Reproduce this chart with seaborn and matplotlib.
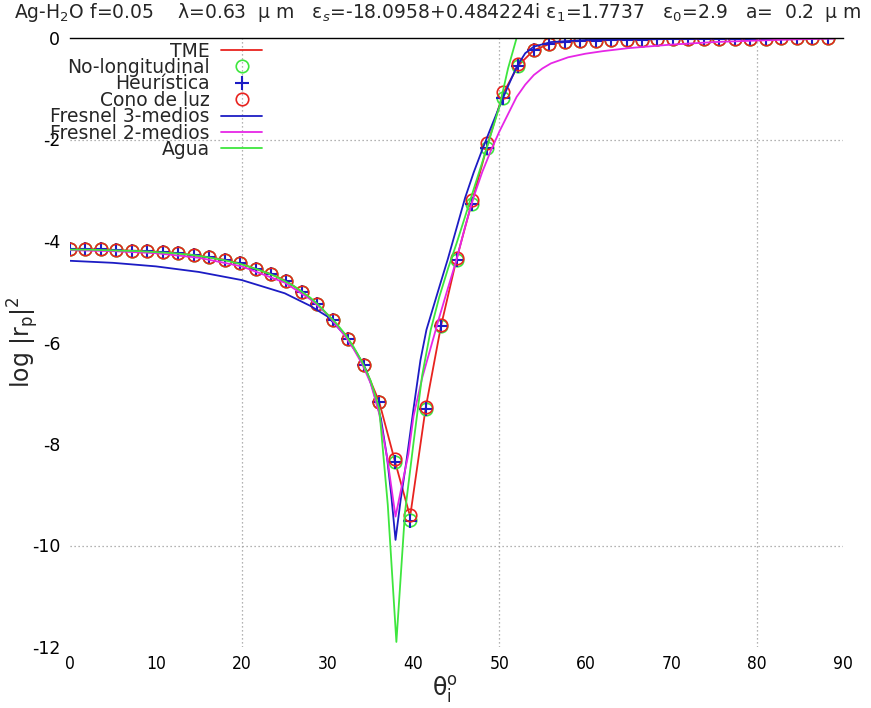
import numpy as np
import pandas as pd
import seaborn as sns
import matplotlib
matplotlib.use("Agg")
import matplotlib.pyplot as plt

# ---------------- data ----------------
theta_m = [0.0, 1.8, 3.6, 5.4, 7.2, 9.0, 10.8, 12.6, 14.4, 16.2,
           18.0, 19.8, 21.6, 23.4, 25.2, 27.0, 28.8, 30.6, 32.4, 34.2,
           36.0, 37.8, 39.6, 41.4, 43.2, 45.0, 46.8, 48.6, 50.4, 52.2,
           54.0, 55.8, 57.6, 59.4, 61.2, 63.0, 64.8, 66.6, 68.4, 70.2,
           72.0, 73.8, 75.6, 77.4, 79.2, 81.0, 82.8, 84.6, 86.4, 88.2]

tme = [-4.16, -4.16, -4.16, -4.18, -4.19, -4.20, -4.22, -4.24, -4.28, -4.32,
       -4.37, -4.44, -4.55, -4.65, -4.79, -5.00, -5.25, -5.56, -5.94, -6.44,
       -7.17, -8.32, -9.43, -7.30, -5.67, -4.36, -3.23, -2.11, -1.10, -0.54,
       -0.24, -0.12, -0.08, -0.06, -0.05, -0.04, -0.03, -0.03, -0.02, -0.02,
       -0.02, -0.015, -0.01, -0.01, -0.01, -0.01, -0.005, -0.005, -0.005, -0.005]

no_longitudinal = [-4.16, -4.16, -4.16, -4.18, -4.19, -4.20, -4.22, -4.24, -4.28, -4.32,
                   -4.37, -4.44, -4.55, -4.65, -4.79, -5.00, -5.25, -5.56, -5.94, -6.44,
                   -7.17, -8.36, -9.50, -7.32, -5.68, -4.38, -3.27, -2.16, -1.19, -0.56,
                   -0.24, -0.12, -0.08, -0.06, -0.05, -0.04, -0.03, -0.03, -0.02, -0.02,
                   -0.02, -0.015, -0.01, -0.01, -0.01, -0.01, -0.005, -0.005, -0.005, -0.005]

heuristica = [-4.16, -4.16, -4.16, -4.18, -4.19, -4.20, -4.22, -4.24, -4.28, -4.32,
              -4.37, -4.44, -4.55, -4.65, -4.79, -5.00, -5.25, -5.56, -5.94, -6.44,
              -7.17, -8.36, -9.52, -7.32, -5.68, -4.38, -3.27, -2.16, -1.19, -0.56,
              -0.24, -0.12, -0.08, -0.06, -0.05, -0.04, -0.03, -0.03, -0.02, -0.02,
              -0.02, -0.015, -0.01, -0.01, -0.01, -0.01, -0.005, -0.005, -0.005, -0.005]

cono_de_luz = [-4.16, -4.16, -4.16, -4.18, -4.19, -4.20, -4.22, -4.24, -4.28, -4.32,
               -4.37, -4.44, -4.55, -4.65, -4.79, -5.00, -5.25, -5.56, -5.94, -6.44,
               -7.17, -8.30, -9.40, -7.28, -5.65, -4.33, -3.20, -2.06, -1.07, -0.52,
               -0.24, -0.12, -0.08, -0.06, -0.05, -0.04, -0.03, -0.03, -0.02, -0.02,
               -0.02, -0.015, -0.01, -0.01, -0.01, -0.01, -0.005, -0.005, -0.005, -0.005]

theta_f3 = [0, 5, 10, 15, 20, 25, 28, 30, 32, 33.4, 34.5, 35.3, 36.2, 36.9, 37.4, 37.9,
            38.5, 39.2, 40, 40.8, 41.5, 42.3, 43.1, 44, 45, 46, 47, 48, 49, 50, 51, 52,
            53, 54, 56, 60, 65, 70, 80, 89]
fresnel3 = [-4.39, -4.43, -4.50, -4.61, -4.77, -5.03, -5.28, -5.49, -5.85, -6.21, -6.55,
            -6.94, -7.50, -8.25, -9.00, -9.89, -9.10, -8.30, -7.30, -6.35, -5.75, -5.30,
            -4.85, -4.35, -3.75, -3.15, -2.65, -2.20, -1.77, -1.35, -0.95, -0.57, -0.30,
            -0.17, -0.08, -0.04, -0.03, -0.02, -0.01, -0.005]

theta_f2 = [0, 5, 10, 15, 20, 25, 28, 30, 32, 33, 34, 35, 36, 37, 37.9, 38.6, 39.4, 40,
            41, 42, 43, 44, 45, 46, 47, 48, 49, 50, 51, 52, 53, 54, 55, 56, 58, 60, 62,
            65, 70, 75, 80, 85, 89]
fresnel2 = [-4.18, -4.20, -4.24, -4.33, -4.50, -4.82, -5.15, -5.45, -5.87, -6.12, -6.42,
            -6.80, -7.40, -8.35, -9.43, -8.85, -8.20, -7.45, -6.70, -6.10, -5.50, -4.93,
            -4.37, -3.72, -3.13, -2.64, -2.22, -1.84, -1.50, -1.16, -0.92, -0.73, -0.60,
            -0.50, -0.38, -0.31, -0.26, -0.20, -0.13, -0.08, -0.05, -0.025, -0.01]

theta_agua = [0, 2, 4, 6, 8, 10, 12, 14, 16, 18, 20, 22, 24, 26, 28, 29, 30, 31, 32, 33,
              34, 35, 36, 37, 38, 39, 40, 41, 42, 43, 44, 45, 46, 47, 48, 49, 50, 51, 52,
              60, 70, 80, 89]
agua = [-4.17, -4.17, -4.18, -4.19, -4.20, -4.22, -4.24, -4.27, -4.32, -4.38, -4.46,
        -4.57, -4.70, -4.88, -5.12, -5.27, -5.45, -5.62, -5.83, -6.08, -6.38, -6.75,
        -7.30, -9.20, -11.90, -9.35, -7.97, -6.65, -5.75, -5.10, -4.55, -4.05, -3.52,
        -2.98, -2.45, -1.90, -1.35, -0.60, 0.0, 0.0, 0.0, 0.0, 0.0]

x_ticks = [0, 10, 20, 30, 40, 50, 60, 70, 80, 90]
y_ticks = [0, -2, -4, -6, -8, -10, -12]
x_grid = [20, 50, 80]
y_grid = [-2, -10]

title = ("Ag-H$_2$O f=0.05    λ=0.63  μ m   ε$_s$=-18.0958+0.484224i "
         "ε$_1$=1.7737   ε$_0$=2.9   a=  0.2  μ m")

RED = "#e8231f"
BLUE = "#1c1cc4"
MAGENTA = "#e626e6"
GREEN = "#3ee63e"

# ---------------- figure ----------------
sns.set_theme(style="white")
plt.rcParams["font.family"] = ["DejaVu Sans"]
plt.rcParams["mathtext.fontset"] = "dejavusans"

fig = plt.figure(figsize=(8.71, 7.08), dpi=100)
ax = fig.add_axes([70 / 871, 1 - 647 / 708, 773 / 871, 609 / 708])

for v in x_grid:
    ax.axvline(v, color="#9a9a9a", lw=0.9, ls=(0, (1, 2.2)), zorder=0)
for h in y_grid:
    ax.axhline(h, color="#9a9a9a", lw=0.9, ls=(0, (1, 2.2)), zorder=0)

sns.lineplot(x=theta_m, y=tme, ax=ax, color=RED, lw=1.3, label="TME",
             estimator=None, sort=False)
sns.lineplot(x=theta_m, y=no_longitudinal, ax=ax, color=GREEN, linestyle="",
             marker="o", markersize=9, markerfacecolor="none",
             markeredgecolor=GREEN, markeredgewidth=1.2,
             label="No-longitudinal", estimator=None, sort=False)
sns.lineplot(x=theta_m, y=heuristica, ax=ax, color=BLUE, linestyle="",
             marker="+", markersize=10, markeredgewidth=1.5,
             markeredgecolor=BLUE, markerfacecolor=BLUE,
             label="Heurística", estimator=None, sort=False)
sns.lineplot(x=theta_m, y=cono_de_luz, ax=ax, color=RED, linestyle="",
             marker="o", markersize=9, markerfacecolor="none",
             markeredgecolor=RED, markeredgewidth=1.2,
             label="Cono de luz", estimator=None, sort=False)
sns.lineplot(x=theta_f3, y=fresnel3, ax=ax, color=BLUE, lw=1.3,
             label="Fresnel 3-medios", estimator=None, sort=False)
sns.lineplot(x=theta_f2, y=fresnel2, ax=ax, color=MAGENTA, lw=1.3,
             label="Fresnel 2-medios", estimator=None, sort=False)
sns.lineplot(x=theta_agua, y=agua, ax=ax, color=GREEN, lw=1.3,
             label="Agua", estimator=None, sort=False)

ax.set_xlim(0, 90)
ax.set_ylim(-12, 0)
ax.set_xticks(x_ticks)
ax.set_yticks(y_ticks)
ax.set_xticklabels([str(t) for t in x_ticks])
ax.set_yticklabels([str(t) for t in y_ticks])
ax.tick_params(axis="both", which="major", length=0, labelsize=12.5, colors="black")
ax.tick_params(axis="x", which="major", pad=6)
ax.tick_params(axis="y", which="major", pad=7)
for lab in ax.get_xticklabels():
    lab.set_fontstretch("condensed")

ax.set_xticks(x_grid, minor=True)
ax.set_yticks(y_grid, minor=True)
ax.tick_params(which="minor", direction="in", length=6, width=1.0, color="#333333",
               bottom=True, top=True, left=True, right=True)

for side in ["left", "right", "bottom"]:
    ax.spines[side].set_visible(False)
ax.spines["top"].set_visible(True)
ax.spines["top"].set_color("black")
ax.spines["top"].set_linewidth(1.0)

ax.set_xlabel("θ$_\\mathregular{i}^\\mathregular{o}$", fontsize=17)
ax.xaxis.set_label_coords(0.485, -0.045)
ax.set_ylabel("log |r$_\\mathregular{p}$|$^\\mathregular{2}$", fontsize=17)
ax.yaxis.set_label_coords(-0.037, 0.5)

handles, labels = ax.get_legend_handles_labels()
ax.legend(handles, labels, loc="upper right", bbox_to_anchor=(0.249, 0.994),
          frameon=False, markerfirst=False, fontsize=13.5, handlelength=2.2,
          handletextpad=0.6, labelspacing=-0.14, borderpad=0, borderaxespad=0)

fig.text(0.503, 0.983, title, ha="center", va="center", fontsize=13.5)

fig.savefig("out.png", dpi=100)
